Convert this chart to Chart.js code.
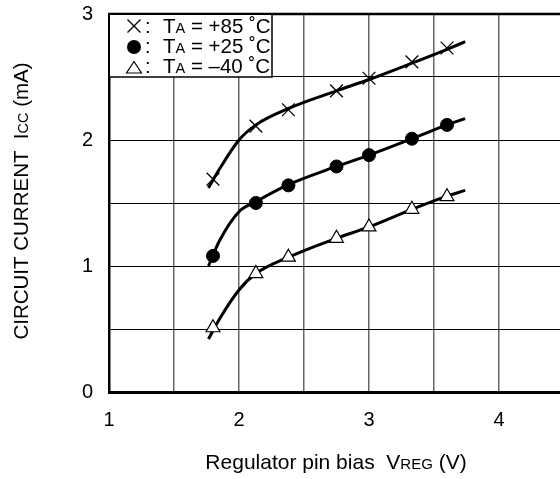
<!DOCTYPE html>
<html>
<head>
<meta charset="utf-8">
<script src="https://cdn.jsdelivr.net/npm/chart.js@4/dist/chart.umd.min.js"></script>
<style>
  html, body { margin: 0; padding: 0; background: #fff; overflow: hidden; }
  /* shifted up so the plot top lands at y=15 despite tick padding */
  #wrap { width: 580px; height: 493px; margin-top: -14px; }
</style>
</head>
<body>
<div id="wrap"><canvas id="icc_chart"></canvas></div>
<script>
// measured points (VREG in V, ICC in mA)
var vregPoints = [1.8, 2.13, 2.38, 2.75, 3.0, 3.33, 3.6];
var icc85 = [1.69, 2.11, 2.24, 2.39, 2.49, 2.62, 2.73];
var icc25 = [1.08, 1.50, 1.64, 1.79, 1.88, 2.01, 2.12];
var iccM40 = [0.51, 0.94, 1.07, 1.22, 1.31, 1.45, 1.55];

// drawn curves
var curveX85 = [1.765, 1.85, 2.0, 2.13, 2.38, 2.75, 3.0, 3.33, 3.6, 3.74];
var curveY85 = [1.62, 1.77, 2.0, 2.12, 2.25, 2.39, 2.48, 2.61, 2.72, 2.78];
var curveX25 = [1.765, 1.85, 2.0, 2.13, 2.38, 2.75, 3.0, 3.33, 3.6, 3.74];
var curveY25 = [1.0, 1.2, 1.43, 1.51, 1.645, 1.79, 1.88, 2.01, 2.12, 2.17];
var curveXM40 = [1.765, 1.85, 2.0, 2.13, 2.38, 2.75, 3.0, 3.33, 3.6, 3.74];
var curveYM40 = [0.42, 0.58, 0.81, 0.94, 1.07, 1.22, 1.31, 1.45, 1.555, 1.6];

var xTickLabels = ["1", "2", "3", "4"];
var yTickLabels = ["0", "1", "2", "3"];

var FONT = "'Liberation Sans', Arial, sans-serif";
var SHIFT = 14; // matches the wrapper offset

function pts(xs, ys) {
    return xs.map(function (x, i) { return { x: x, y: ys[i] }; });
}

function curve(xs, ys) {
    return {
        data: pts(xs, ys),
        showLine: true,
        borderColor: "#000",
        borderWidth: 3,
        pointRadius: 0,
        cubicInterpolationMode: "monotone",
        fill: false,
        order: 2,
    };
}

// draw a run of text pieces of mixed sizes, starting at x
function drawParts(ctx, parts, x, y, align) {
    var total = 0;
    parts.forEach(function (p) {
        ctx.font = p[1] + "px " + FONT;
        total += ctx.measureText(p[0]).width;
    });
    var cx = align == "center" ? x - total / 2 : x;
    ctx.textAlign = "left";
    ctx.textBaseline = "alphabetic";
    parts.forEach(function (p) {
        ctx.font = p[1] + "px " + FONT;
        ctx.fillText(p[0], cx, y);
        cx += ctx.measureText(p[0]).width;
    });
}

var extras = {
    id: "extras",
    afterDraw: function (chart) {
        var ctx = chart.ctx;
        var a = chart.chartArea;
        var t = a.top;
        ctx.save();
        ctx.fillStyle = "#000";
        ctx.strokeStyle = "#000";

        // top frame line
        ctx.lineWidth = 2.5;
        ctx.beginPath();
        ctx.moveTo(a.left - 1, t);
        ctx.lineTo(a.right, t);
        ctx.stroke();

        // legend box
        var bx = a.left, bw = 163, bh = 63;
        ctx.fillStyle = "#fff";
        ctx.fillRect(bx + 1, t + 1, bw - 1, bh - 1);
        ctx.lineWidth = 1.5;
        ctx.strokeRect(bx, t, bw, bh);
        ctx.fillStyle = "#000";

        var sx = 134;
        // x mark
        ctx.lineWidth = 1.3;
        ctx.beginPath();
        ctx.moveTo(sx - 6.5, t + 5.5); ctx.lineTo(sx + 6.5, t + 18.5);
        ctx.moveTo(sx + 6.5, t + 5.5); ctx.lineTo(sx - 6.5, t + 18.5);
        ctx.stroke();
        // filled circle
        ctx.beginPath();
        ctx.arc(sx, t + 33, 7, 0, Math.PI * 2);
        ctx.fill();
        // open triangle
        ctx.lineWidth = 1.2;
        ctx.beginPath();
        ctx.moveTo(sx, t + 47.5); ctx.lineTo(sx + 7.5, t + 59); ctx.lineTo(sx - 7.5, t + 59);
        ctx.closePath();
        ctx.stroke();

        var rows = [["+85", 18.5], ["+25", 38.5], ["\u201340", 58.5]];
        rows.forEach(function (r) {
            drawParts(ctx, [[":", 20]], 145, t + r[1], "left");
            drawParts(ctx, [["T", 20.5], ["A", 14.5], [" = " + r[0] + " \u02DAC", 20.5]], 163, t + r[1], "left");
        });

        // axis titles
        drawParts(ctx, [["Regulator pin bias  V", 21], ["REG", 15], [" (V)", 21]], 336, 469 + SHIFT, "center");
        ctx.translate(27.5, 201 + SHIFT);
        ctx.rotate(-Math.PI / 2);
        drawParts(ctx, [["CIRCUIT CURRENT  I", 20.5], ["CC", 14.5], [" (mA)", 20.5]], 0, 0, "center");
        ctx.restore();
    },
};

var iccChart = new Chart("icc_chart", {
    type: "scatter",
    data: {
        datasets: [
            {
                data: pts(vregPoints, icc85),
                pointStyle: "crossRot",
                pointRadius: 9,
                borderColor: "#000",
                borderWidth: 1.3,
                order: 1,
            },
            {
                data: pts(vregPoints, icc25),
                pointStyle: "circle",
                pointRadius: 6.5,
                backgroundColor: "#000",
                borderColor: "#000",
                borderWidth: 1,
                order: 1,
            },
            {
                data: pts(vregPoints, iccM40),
                pointStyle: "triangle",
                pointRadius: 8,
                backgroundColor: "#fff",
                borderColor: "#000",
                borderWidth: 1.2,
                order: 1,
            },
            curve(curveX85, curveY85),
            curve(curveX25, curveY25),
            curve(curveXM40, curveYM40),
        ],
    },
    options: {
        responsive: true,
        maintainAspectRatio: false,
        animation: false,
        layout: { padding: { top: 3, right: 15, left: 0, bottom: 0 } },
        plugins: {
            legend: { display: false },
            tooltip: { enabled: false },
        },
        scales: {
            x: {
                type: "linear",
                min: 1,
                max: 4.5,
                afterFit: function (s) { s.height = 87; },
                border: { color: "#000", width: 3 },
                grid: {
                    color: "#666",
                    lineWidth: 1.5,
                    drawTicks: false,
                },
                ticks: {
                    stepSize: 0.5,
                    padding: 16,
                    color: "#000",
                    font: { family: FONT, size: 20 },
                    maxRotation: 0,
                    callback: function (v) {
                        return Number.isInteger(v) && v <= 4 ? xTickLabels[v - 1] : "";
                    },
                },
            },
            y: {
                type: "linear",
                min: 0,
                max: 3,
                afterFit: function (s) { s.width = 109; },
                border: { color: "#000", width: 2.5 },
                grid: {
                    color: "#000",
                    lineWidth: 1,
                    drawTicks: false,
                },
                ticks: {
                    stepSize: 0.5,
                    padding: 16,
                    color: "#000",
                    font: { family: FONT, size: 20 },
                    callback: function (v) {
                        return Number.isInteger(v) ? yTickLabels[v] : "";
                    },
                },
            },
        },
    },
    plugins: [extras],
});
</script>
</body>
</html>
